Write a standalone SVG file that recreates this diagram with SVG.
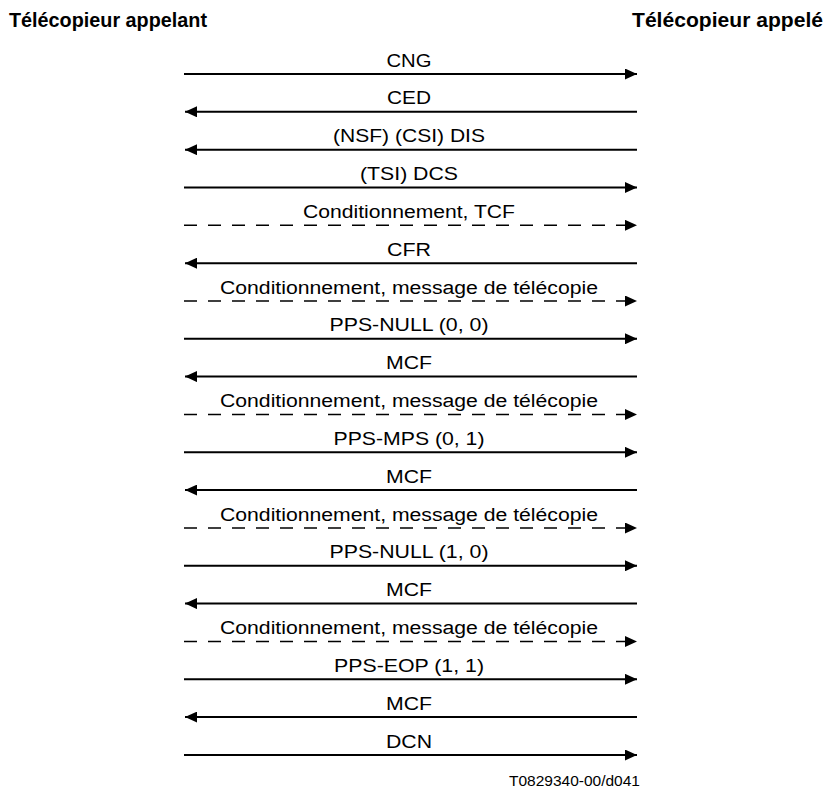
<svg xmlns="http://www.w3.org/2000/svg" width="826" height="791" viewBox="0 0 826 791">
<style>
.h{font-family:"Liberation Sans",Arial,sans-serif;font-weight:bold;font-size:19.5px;fill:#000}
.l{font-family:"Liberation Sans",Arial,sans-serif;font-size:18px;fill:#000;text-anchor:middle}
.f{font-family:"Liberation Sans",Arial,sans-serif;font-size:15.5px;fill:#000;text-anchor:end}
.s{stroke:#000;stroke-width:2;fill:none;marker-end:url(#ah)}
.d{stroke:#000;stroke-width:1.5;fill:none;stroke-dasharray:13 11;marker-end:url(#ah)}
</style>
<defs>
<marker id="ah" markerUnits="userSpaceOnUse" markerWidth="12" markerHeight="11" refX="12" refY="5.5" orient="auto" viewBox="0 0 12 11"><path d="M0,0 L12,5.5 L0,11 z" fill="#000"/></marker>
</defs>
<rect width="826" height="791" fill="#fff"/>
<g id="left-party"><text class="h" x="9" y="27" textLength="198" lengthAdjust="spacingAndGlyphs">Télécopieur appelant</text></g>
<g id="right-party"><text class="h" x="632" y="27" textLength="191" lengthAdjust="spacingAndGlyphs">Télécopieur appelé</text></g>
<g id="connectors">
<line class="s" x1="184" y1="74" x2="637" y2="74"/>
<line class="s" x1="637" y1="111.8" x2="185" y2="111.8"/>
<line class="s" x1="637" y1="149.7" x2="185" y2="149.7"/>
<line class="s" x1="184" y1="187.5" x2="637" y2="187.5"/>
<line class="d" x1="184" y1="225.3" x2="637" y2="225.3"/>
<line class="s" x1="637" y1="263.2" x2="185" y2="263.2"/>
<line class="d" x1="184" y1="301" x2="637" y2="301"/>
<line class="s" x1="184" y1="338.8" x2="637" y2="338.8"/>
<line class="s" x1="637" y1="376.6" x2="185" y2="376.6"/>
<line class="d" x1="184" y1="414.5" x2="637" y2="414.5"/>
<line class="s" x1="184" y1="452.3" x2="637" y2="452.3"/>
<line class="s" x1="637" y1="490.1" x2="185" y2="490.1"/>
<line class="d" x1="184" y1="528" x2="637" y2="528"/>
<line class="s" x1="184" y1="565.8" x2="637" y2="565.8"/>
<line class="s" x1="637" y1="603.6" x2="185" y2="603.6"/>
<line class="d" x1="184" y1="641.5" x2="637" y2="641.5"/>
<line class="s" x1="184" y1="679.3" x2="637" y2="679.3"/>
<line class="s" x1="637" y1="717.1" x2="185" y2="717.1"/>
<line class="s" x1="184" y1="755" x2="637" y2="755"/>
</g>
<g id="labels">
<text class="l" x="409" y="66.5" textLength="45" lengthAdjust="spacingAndGlyphs">CNG</text>
<text class="l" x="409" y="104.3" textLength="44" lengthAdjust="spacingAndGlyphs">CED</text>
<text class="l" x="409" y="142.2" textLength="152" lengthAdjust="spacingAndGlyphs">(NSF) (CSI) DIS</text>
<text class="l" x="409" y="180" textLength="98" lengthAdjust="spacingAndGlyphs">(TSI) DCS</text>
<text class="l" x="409" y="217.8" textLength="212" lengthAdjust="spacingAndGlyphs">Conditionnement, TCF</text>
<text class="l" x="409" y="255.7" textLength="44" lengthAdjust="spacingAndGlyphs">CFR</text>
<text class="l" x="409" y="293.5" textLength="378" lengthAdjust="spacingAndGlyphs">Conditionnement, message de télécopie</text>
<text class="l" x="409" y="331.3" textLength="159" lengthAdjust="spacingAndGlyphs">PPS-NULL (0, 0)</text>
<text class="l" x="409" y="369.1" textLength="46" lengthAdjust="spacingAndGlyphs">MCF</text>
<text class="l" x="409" y="407" textLength="378" lengthAdjust="spacingAndGlyphs">Conditionnement, message de télécopie</text>
<text class="l" x="409" y="444.8" textLength="151" lengthAdjust="spacingAndGlyphs">PPS-MPS (0, 1)</text>
<text class="l" x="409" y="482.6" textLength="46" lengthAdjust="spacingAndGlyphs">MCF</text>
<text class="l" x="409" y="520.5" textLength="378" lengthAdjust="spacingAndGlyphs">Conditionnement, message de télécopie</text>
<text class="l" x="409" y="558.3" textLength="159" lengthAdjust="spacingAndGlyphs">PPS-NULL (1, 0)</text>
<text class="l" x="409" y="596.1" textLength="46" lengthAdjust="spacingAndGlyphs">MCF</text>
<text class="l" x="409" y="634" textLength="378" lengthAdjust="spacingAndGlyphs">Conditionnement, message de télécopie</text>
<text class="l" x="409" y="671.8" textLength="150" lengthAdjust="spacingAndGlyphs">PPS-EOP (1, 1)</text>
<text class="l" x="409" y="709.6" textLength="46" lengthAdjust="spacingAndGlyphs">MCF</text>
<text class="l" x="409" y="747.5" textLength="46" lengthAdjust="spacingAndGlyphs">DCN</text>
</g>
<text class="f" x="640" y="786">T0829340-00/d041</text>
</svg>
